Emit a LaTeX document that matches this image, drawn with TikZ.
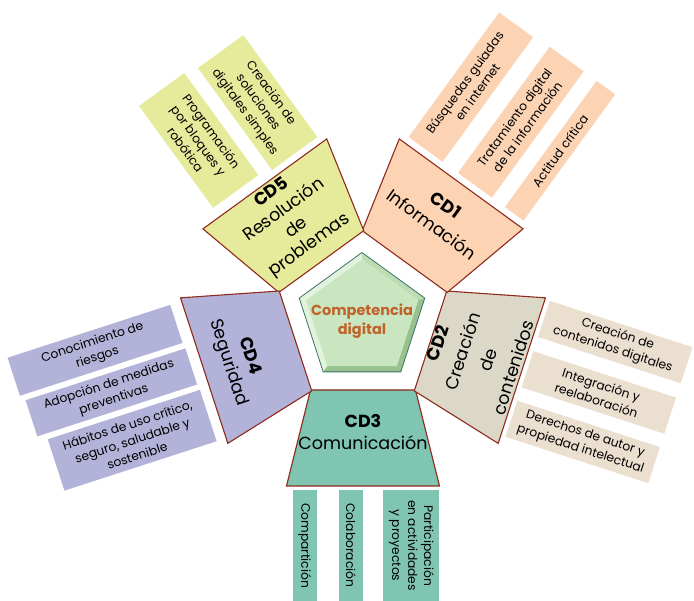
\documentclass[tikz,border=0pt]{standalone}
\usepackage{fontspec}
\setmainfont{Poppins}
\usetikzlibrary{shapes.geometric}
\definecolor{cdA}{HTML}{FCD4B4}
\definecolor{cdB}{HTML}{DBD8C7}
\definecolor{cdBi}{HTML}{EBDFD0}
\definecolor{cdC}{HTML}{7FC5B1}
\definecolor{cdD}{HTML}{B3B3D9}
\definecolor{cdE}{HTML}{E6EB9B}
\definecolor{trapline}{HTML}{8E2B1D}
\definecolor{pentline}{HTML}{3D7262}
\definecolor{pentlight}{HTML}{E2F2DD}
\definecolor{pentmid}{HTML}{BCDDB3}
\definecolor{pentdark}{HTML}{97C28D}
\definecolor{pentfill}{HTML}{C9E6C1}
\definecolor{orangetext}{HTML}{C0622A}
\tikzset{
  trap/.style={draw=trapline, line width=1.1pt, line join=miter},
  itembox/.style={draw=none, inner sep=0pt, align=center, font=\fontsize{12.3}{16}\selectfont},
  traptext/.style={inner sep=0pt, align=center, font=\fontsize{17.5}{#1}\selectfont},
  traptext/.default=22,
}
\begin{document}
\begin{tikzpicture}[x=1pt,y=-1pt]
\useasboundingbox (0,0) rectangle (694,601);
% central pentagon with bevel
\begin{scope}[shift={(362,318.5)}]
  \fill[pentlight] (198:66) -- (270:66) -- (270:59) -- (198:59) -- cycle;
  \fill[pentlight] (126:66) -- (198:66) -- (198:59) -- (126:59) -- cycle;
  \fill[pentmid] (270:66) -- (342:66) -- (342:59) -- (270:59) -- cycle;
  \fill[pentdark] (342:66) -- (54:66) -- (54:59) -- (342:59) -- cycle;
  \fill[pentdark] (54:66) -- (126:66) -- (126:59) -- (54:59) -- cycle;
\end{scope}
\node[regular polygon, regular polygon sides=5, minimum size=118pt, inner sep=0pt,
      fill=pentfill] (pentin) at (362,318.5) {};
\node[regular polygon, regular polygon sides=5, minimum size=132pt, inner sep=0pt,
      draw=pentline, line width=0.8pt] (pent) at (362,318.5) {};
\node[align=center, inner sep=0pt, text=orangetext,
      font=\fontsize{14.5}{18.5}\selectfont\bfseries] (comp) at (362,321) {Competencia\\digital};
% CD3
\begin{scope}[shift={(363,319)}, rotate=0]
  \path[trap, fill=cdC] (-52.5,71) -- (52.5,71) -- (76.5,167) -- (-76.5,167) -- cycle;
  \node[traptext, rotate=0] (cd3) at (0,113) {\textbf{CD3}\\Comunicación};
  \node[itembox, fill=cdC, rotate=-90, minimum width=111pt, minimum height=24pt] (cd3a) at (-58.3,226.5) {Compartición};
  \node[itembox, fill=cdC, rotate=-90, minimum width=111pt, minimum height=24pt] (cd3b) at (-12,226.5) {Colaboración};
  \node[itembox, fill=cdC, rotate=-90, minimum width=111pt, minimum height=56pt] (cd3c) at (48.3,226.5) {Participación\\en actividades\\y proyectos};
\end{scope}
% CD2
\begin{scope}[shift={(363,319)}, rotate=72]
  \path[trap, fill=cdB] (-52.5,71) -- (52.5,71) -- (76.5,167) -- (-76.5,167) -- cycle;
  \node[traptext=26.5, rotate=72] (cd2) at (0,118) {\textbf{CD2}\\Creación\\de\\contenidos};
  \node[itembox, fill=cdBi, rotate=-18, minimum width=150pt, minimum height=38pt] (cd2a) at (56,247) {Creación de\\contenidos digitales};
  \node[itembox, fill=cdBi, rotate=-18, minimum width=150pt, minimum height=38pt] (cd2b) at (3,247) {Integración y\\reelaboración};
  \node[itembox, fill=cdBi, rotate=-18, minimum width=150pt, minimum height=38pt] (cd2c) at (-49,247) {Derechos de autor y\\propiedad intelectual};
\end{scope}
% CD1
\begin{scope}[shift={(363,319)}, rotate=144]
  \path[trap, fill=cdA] (-52.5,71) -- (52.5,71) -- (76.5,167) -- (-76.5,167) -- cycle;
  \node[traptext=24, rotate=-36] (cd1) at (0,129) {\textbf{CD1}\\Información};
  \node[itembox, fill=cdA, rotate=54, minimum width=154pt, minimum height=42pt] (cd1a) at (49,251) {Búsquedas guiadas\\en internet};
  \node[itembox, fill=cdA, rotate=54, minimum width=156pt, minimum height=42pt] (cd1b) at (-12,252) {Tratamiento digital\\de la información};
  \node[itembox, fill=cdA, rotate=54, minimum width=156pt, minimum height=23pt] (cd1c) at (-60.5,252) {Actitud crítica};
\end{scope}
% CD5
\begin{scope}[shift={(363,319)}, rotate=216]
  \path[trap, fill=cdE] (-52.5,71) -- (52.5,71) -- (76.5,167) -- (-76.5,167) -- cycle;
  \node[traptext=21.5, rotate=36] (cd5) at (0,123) {\textbf{CD5}\\Resolución\\de\\problemas};
  \node[itembox, fill=cdE, rotate=-54, minimum width=126pt, minimum height=56pt] (cd5a) at (-42,237) {Creación de\\soluciones\\digitales simples};
  \node[itembox, fill=cdE, rotate=-54, minimum width=126pt, minimum height=56pt] (cd5b) at (28,241) {Programación\\por bloques y\\robótica};
\end{scope}
% CD4
\begin{scope}[shift={(363,319)}, rotate=288]
  \path[trap, fill=cdD] (-52.5,71) -- (52.5,71) -- (76.5,167) -- (-76.5,167) -- cycle;
  \node[traptext, rotate=-72] (cd4) at (0,131) {\textbf{CD4}\\Seguridad};
  \node[itembox, fill=cdD, rotate=18, minimum width=171pt, minimum height=40pt] (cd4a) at (-53,264.5) {Conocimiento de\\riesgos};
  \node[itembox, fill=cdD, rotate=18, minimum width=168pt, minimum height=38pt] (cd4b) at (-8,262) {Adopción de medidas\\preventivas};
  \node[itembox, fill=cdD, rotate=18, minimum width=160pt, minimum height=54pt] (cd4c) at (44,257) {Hábitos de uso crítico,\\seguro, saludable y\\sostenible};
\end{scope}
\end{tikzpicture}
\end{document}
